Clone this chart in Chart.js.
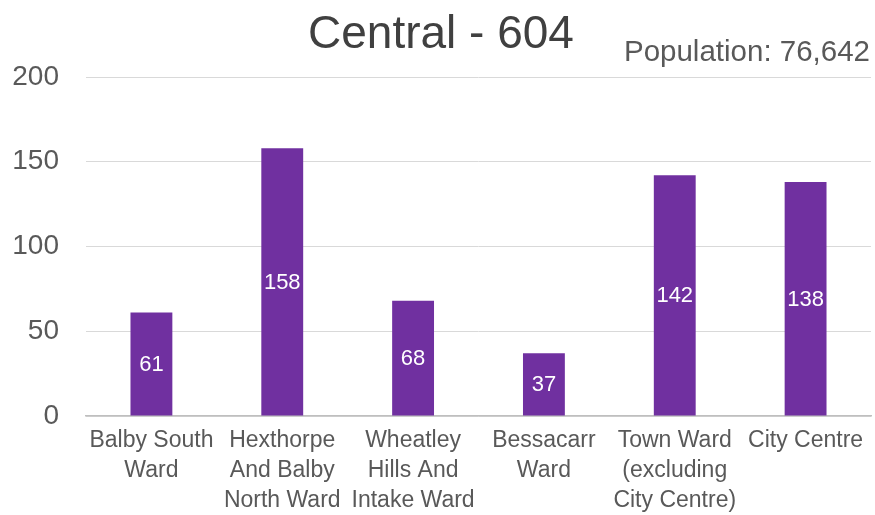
<!DOCTYPE html>
<html lang="en">
<head>
  <meta charset="UTF-8" />
  <title>Central - 604</title>
  <script src="https://cdn.jsdelivr.net/npm/chart.js"></script>
  <style>
    body {
      margin: 0;
      background: #fff;
    }
    #wrap {
      width: 875px;
      height: 515px;
    }
  </style>
</head>
<body>
  <div id="wrap"><canvas id="chart" width="875" height="515"></canvas></div>

  <script>
    // data
    const wards = [
      ["Balby South", "Ward"],
      ["Hexthorpe", "And Balby", "North Ward"],
      ["Wheatley", "Hills And", "Intake Ward"],
      ["Bessacarr", "Ward"],
      ["Town Ward", "(excluding", "City Centre)"],
      ["City Centre"]
    ];
    const counts = [61, 158, 68, 37, 142, 138];
    const yTicks = [0, 50, 100, 150, 200];
    const titleText = "Central - 604";
    const populationText = "Population: 76,642";

    const FONT = "Arial, 'Liberation Sans', sans-serif";

    // title, population and the white numbers inside the bars
    const textPlugin = {
      id: "textPlugin",
      afterDatasetsDraw(chart) {
        const ctx = chart.ctx;
        const meta = chart.getDatasetMeta(0);
        ctx.save();
        ctx.fillStyle = "#ffffff";
        ctx.font = "22px " + FONT;
        ctx.textAlign = "center";
        ctx.textBaseline = "middle";
        meta.data.forEach((bar, i) => {
          const mid = (bar.y + bar.base) / 2;
          ctx.fillText(counts[i], bar.x, mid + 1);
        });

        ctx.fillStyle = "#404040";
        ctx.font = "46px " + FONT;
        ctx.textBaseline = "alphabetic";
        ctx.fillText(titleText, 441, 48);

        ctx.fillStyle = "#595959";
        ctx.font = "29.5px " + FONT;
        ctx.textAlign = "right";
        ctx.fillText(populationText, 870, 61);
        ctx.restore();
      }
    };

    const ctx = document.getElementById("chart").getContext("2d");
    new Chart(ctx, {
      type: "bar",
      data: {
        labels: wards,
        datasets: [{
          data: counts,
          backgroundColor: "#7030a0",
          barPercentage: 0.32,
          categoryPercentage: 1
        }]
      },
      options: {
        responsive: false,
        animation: false,
        layout: { padding: { top: 77, left: 12, right: 4, bottom: 1 } },
        plugins: {
          legend: { display: false },
          tooltip: { enabled: false }
        },
        scales: {
          x: {
            grid: { display: false, drawTicks: false },
            border: { color: "#bfbfbf", width: 1.5 },
            ticks: {
              color: "#595959",
              font: { family: FONT, size: 23, lineHeight: 1.3 },
              maxRotation: 0,
              autoSkip: false,
              padding: 10
            },
            afterFit(axis) {
              // labels fit inside their columns, no side padding needed
              axis.paddingLeft = 0;
              axis.paddingRight = 0;
              axis.height = 98;
            }
          },
          y: {
            min: 0,
            max: 200,
            afterBuildTicks(axis) {
              axis.ticks = yTicks.map(v => ({ value: v }));
            },
            grid: { color: "#d9d9d9", drawTicks: false },
            border: { display: false },
            ticks: {
              color: "#595959",
              font: { family: FONT, size: 28 },
              padding: 27
            },
            afterFit(axis) {
              axis.width = 74;
            }
          }
        }
      },
      plugins: [textPlugin]
    });
  </script>
</body>
</html>
